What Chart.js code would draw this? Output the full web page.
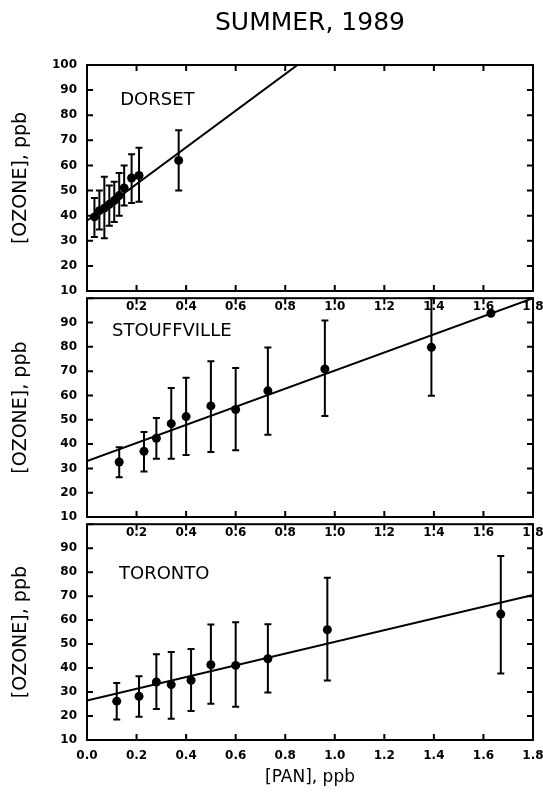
<!DOCTYPE html>
<html>
<head>
<meta charset="utf-8">
<script src="https://cdn.jsdelivr.net/npm/chart.js@4.4.1/dist/chart.umd.min.js"></script>
<style>
  html, body { margin: 0; padding: 0; background: #fff; overflow: hidden; }
  body { width: 543px; height: 798px; position: relative; }
  canvas { position: absolute; left: 0; }
</style>
</head>
<body>
<canvas id="dorset" width="560" height="321" style="top:0"></canvas>
<canvas id="stouffville" width="560" height="266" style="top:281px"></canvas>
<canvas id="toronto" width="560" height="291" style="top:507px"></canvas>
<script>
// [PAN] vs [OZONE], summer 1989
const xTicks = [0, 0.2, 0.4, 0.6, 0.8, 1.0, 1.2, 1.4, 1.6, 1.8];
const yTicks = [10, 20, 30, 40, 50, 60, 70, 80, 90, 100];

const dorsetPan  = [0.03, 0.05, 0.07, 0.09, 0.11, 0.13, 0.15, 0.18, 0.21, 0.37];
const dorsetO3   = [39.5, 42, 43, 44.5, 46, 48, 51, 55, 56, 62];
const dorsetLow  = [31.5, 34.5, 31, 36, 37.5, 40, 44, 45, 45.5, 50];
const dorsetHigh = [47, 50, 55.5, 52, 53.5, 57, 60, 64.5, 67, 74];
const dorsetFit  = [38, 169.4];   // ozone at PAN = 0 and 1.8

const stouffPan  = [0.13, 0.23, 0.28, 0.34, 0.40, 0.50, 0.60, 0.73, 0.96, 1.39, 1.63];
const stouffO3   = [32.6, 37, 42.4, 48.4, 51.3, 55.7, 54.2, 61.9, 70.9, 79.8, 93.8];
const stouffLow  = [26.3, 28.7, 34, 34, 35.5, 36.7, 37.5, 43.8, 51.5, 59.9, 93.8];
const stouffHigh = [38.7, 45, 50.7, 63.1, 67.3, 74.1, 71.3, 79.7, 90.8, 100, 93.8];
const stouffFit  = [33, 100];

const torontoPan  = [0.12, 0.21, 0.28, 0.34, 0.42, 0.50, 0.60, 0.73, 0.97, 1.67];
const torontoO3   = [26.2, 28.2, 34.2, 33.1, 34.9, 41.4, 41.1, 43.9, 56, 62.5];
const torontoLow  = [18.5, 19.7, 22.9, 18.9, 22.1, 25.1, 23.9, 29.8, 34.8, 37.7];
const torontoHigh = [33.8, 36.6, 45.8, 46.7, 47.9, 58.2, 59.1, 58.3, 77.7, 86.7];
const torontoFit  = [26.5, 70.5];

// error bars + station name, drawn through the chart's own scales
function errorBars(xs, lows, highs, name, nameAt) {
  return {
    id: 'errorBars',
    afterDatasetsDraw(chart) {
      const { ctx, scales: { x, y } } = chart;
      ctx.save();
      ctx.strokeStyle = '#000';
      ctx.lineWidth = 2;
      xs.forEach((v, i) => {
        if (highs[i] <= lows[i]) return;
        const px = x.getPixelForValue(v);
        const lo = y.getPixelForValue(lows[i]);
        const hi = y.getPixelForValue(highs[i]);
        ctx.beginPath();
        ctx.moveTo(px, lo); ctx.lineTo(px, hi);
        ctx.moveTo(px - 3.5, lo); ctx.lineTo(px + 3.5, lo);
        ctx.moveTo(px - 3.5, hi); ctx.lineTo(px + 3.5, hi);
        ctx.stroke();
      });
      ctx.fillStyle = '#000';
      ctx.font = '18px "DejaVu Sans"';
      ctx.textBaseline = 'middle';
      ctx.fillText(name, x.getPixelForValue(nameAt[0]), y.getPixelForValue(nameAt[1]));
      ctx.restore();
    }
  };
}

// box round the plot with inward tick marks on all four sides
const frame = {
  id: 'frame',
  afterDraw(chart) {
    const { ctx, chartArea: a, scales: { x, y } } = chart;
    ctx.save();
    ctx.strokeStyle = '#000';
    ctx.lineWidth = 2;
    ctx.strokeRect(a.left, a.top, a.right - a.left, a.bottom - a.top);
    ctx.beginPath();
    x.ticks.forEach(t => {
      const px = x.getPixelForValue(t.value);
      ctx.moveTo(px, a.bottom); ctx.lineTo(px, a.bottom - 6);
      ctx.moveTo(px, a.top); ctx.lineTo(px, a.top + 6);
    });
    y.ticks.forEach(t => {
      const py = y.getPixelForValue(t.value);
      ctx.moveTo(a.left, py); ctx.lineTo(a.left + 6, py);
      ctx.moveTo(a.right, py); ctx.lineTo(a.right - 6, py);
    });
    ctx.stroke();
    ctx.restore();
  }
};

function makeChart(id, pan, o3, low, high, fit, name, nameAt, opts) {
  const ctx = document.getElementById(id).getContext('2d');
  return new Chart(ctx, {
    data: {
      datasets: [{
        type: 'scatter',
        data: pan.map((v, i) => ({ x: v, y: o3[i] })),
        pointRadius: 4.5,
        pointBackgroundColor: '#000',
        pointBorderWidth: 0
      }, {
        type: 'line',
        data: [{ x: xTicks[0], y: fit[0] }, { x: xTicks[xTicks.length - 1], y: fit[1] }],
        borderColor: '#000',
        borderWidth: 2,
        pointRadius: 0
      }]
    },
    options: {
      responsive: false,
      animation: false,
      layout: { padding: { left: 0, right: 27, top: opts.padTop, bottom: 0 } },
      plugins: {
        legend: { display: false },
        tooltip: { enabled: false },
        title: opts.title ? {
          display: true,
          text: opts.title,
          fullSize: false,
          color: '#000',
          font: { family: 'DejaVu Sans', size: 25, weight: 'normal' },
          padding: { top: 8, bottom: 27 }
        } : { display: false }
      },
      scales: {
        x: {
          type: 'linear',
          min: xTicks[0],
          max: xTicks[xTicks.length - 1],
          afterBuildTicks: s => { s.ticks = xTicks.map(v => ({ value: v })); },
          afterFit: s => { s.height = opts.xHeight; },
          grid: { display: false, drawTicks: false },
          border: { display: false },
          ticks: {
            autoSkip: false,
            maxRotation: 0,
            padding: 9,
            color: '#000',
            font: { family: 'DejaVu Sans', weight: 'bold', size: 12 },
            callback: v => (v === 0 && !opts.showZero) ? '' : v.toFixed(1)
          },
          title: opts.xTitle ? {
            display: true,
            text: opts.xTitle,
            color: '#000',
            font: { family: 'DejaVu Sans', size: 17 },
            padding: { top: 0, bottom: 10 }
          } : { display: false }
        },
        y: {
          min: yTicks[0],
          max: yTicks[yTicks.length - 1],
          afterBuildTicks: s => { s.ticks = yTicks.map(v => ({ value: v })); },
          afterFit: s => { s.width = 87; },
          grid: { display: false, drawTicks: false },
          border: { display: false },
          ticks: {
            padding: 10,
            color: '#000',
            font: { family: 'DejaVu Sans', weight: 'bold', size: 12 },
            callback: v => (v === 100 && !opts.showTop) ? '' : String(v)
          },
          title: {
            display: true,
            text: '[OZONE], ppb',
            color: '#000',
            font: { family: 'DejaVu Sans', size: 19 },
            padding: { top: 10, bottom: 0 }
          }
        }
      }
    },
    plugins: [frame, errorBars(pan, low, high, name, nameAt)]
  });
}

makeChart('dorset', dorsetPan, dorsetO3, dorsetLow, dorsetHigh, dorsetFit,
  'DORSET', [0.134, 86],
  { title: 'SUMMER, 1989', padTop: 0, xHeight: 30, showTop: true, showZero: false });
makeChart('stouffville', stouffPan, stouffO3, stouffLow, stouffHigh, stouffFit,
  'STOUFFVILLE', [0.101, 86.5],
  { padTop: 10, xHeight: 30, showTop: false, showZero: false });
makeChart('toronto', torontoPan, torontoO3, torontoLow, torontoHigh, torontoFit,
  'TORONTO', [0.129, 79],
  { padTop: 10, xHeight: 58, showTop: false, showZero: true, xTitle: '[PAN], ppb' });
</script>
</body>
</html>
